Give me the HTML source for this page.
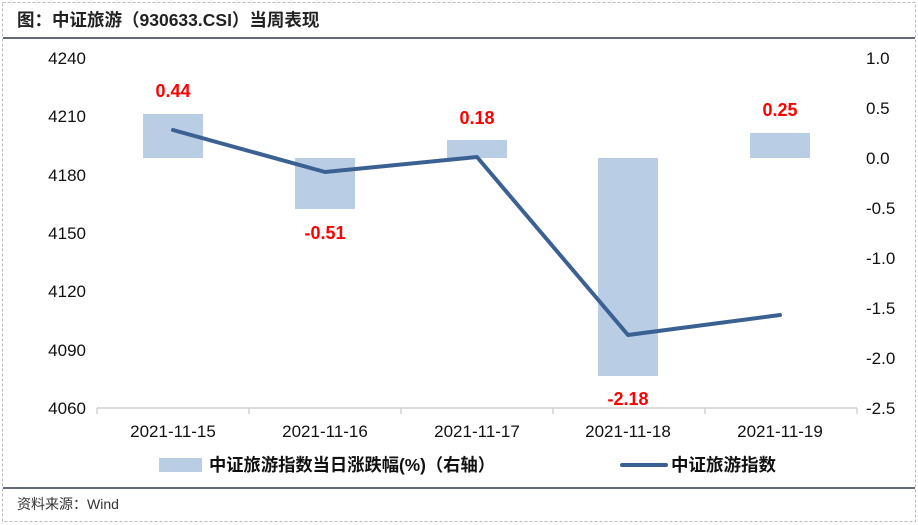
<!DOCTYPE html>
<html><head><meta charset="utf-8"><style>
body{margin:0;background:#fff;}
svg{display:block;font-family:"Liberation Sans","Noto Sans CJK SC",sans-serif;}
</style></head><body>
<svg width="918" height="525" xmlns="http://www.w3.org/2000/svg">
<rect x="2.5" y="2.5" width="913" height="519" fill="none" stroke="#bbb" stroke-dasharray="3,2"/>
<text x="17" y="26" font-size="17.5" font-weight="bold" fill="#222">图：中证旅游（930633.CSI）当周表现</text>
<line x1="3" y1="38" x2="915" y2="38" stroke="#2e3a4a" stroke-width="1.5"/>
<g font-size="17" fill="#111" text-anchor="end">
<text x="86" y="64">4240</text><text x="86" y="122">4210</text><text x="86" y="181">4180</text>
<text x="86" y="239">4150</text><text x="86" y="297">4120</text><text x="86" y="356">4090</text><text x="86" y="414">4060</text>
</g>
<g font-size="17" fill="#111" text-anchor="start">
<text x="866" y="64">1.0</text><text x="866" y="114">0.5</text><text x="866" y="164">0.0</text>
<text x="866" y="214">-0.5</text><text x="866" y="264">-1.0</text><text x="866" y="314">-1.5</text>
<text x="866" y="364">-2.0</text><text x="866" y="414">-2.5</text>
</g>
<g fill="#b9cde5">
<rect x="143" y="114" width="60" height="44"/>
<rect x="295" y="158" width="60" height="51"/>
<rect x="447" y="140" width="60" height="18"/>
<rect x="598" y="158" width="60" height="218"/>
<rect x="750" y="133" width="60" height="25"/>
</g>
<g stroke="#c8c8c8" stroke-width="1.2">
<line x1="97" y1="408" x2="857" y2="408"/>
<line x1="97" y1="408" x2="97" y2="414"/><line x1="249" y1="408" x2="249" y2="414"/>
<line x1="401" y1="408" x2="401" y2="414"/><line x1="553" y1="408" x2="553" y2="414"/>
<line x1="705" y1="408" x2="705" y2="414"/><line x1="857" y1="408" x2="857" y2="414"/>
</g>
<polyline points="173,130 325,172 477,157 628,335 780,315" fill="none" stroke="#3b6193" stroke-width="4" stroke-linejoin="round" stroke-linecap="round"/>
<g font-size="18" font-weight="bold" fill="#ff0000" text-anchor="middle">
<text x="173" y="97">0.44</text><text x="325" y="239">-0.51</text><text x="477" y="124">0.18</text>
<text x="628" y="405">-2.18</text><text x="780" y="116">0.25</text>
</g>
<g font-size="17" fill="#111" text-anchor="middle">
<text x="173" y="437">2021-11-15</text><text x="325" y="437">2021-11-16</text><text x="477" y="437">2021-11-17</text>
<text x="628" y="437">2021-11-18</text><text x="780" y="437">2021-11-19</text>
</g>
<rect x="159" y="458" width="43" height="14" fill="#b9cde5"/>
<text x="209" y="471" font-size="17.5" font-weight="bold" fill="#111" textLength="286" lengthAdjust="spacingAndGlyphs">中证旅游指数当日涨跌幅(%)（右轴）</text>
<line x1="622" y1="465" x2="666" y2="465" stroke="#3b6193" stroke-width="4" stroke-linecap="round"/>
<text x="671" y="471" font-size="17.5" font-weight="bold" fill="#111">中证旅游指数</text>
<line x1="3" y1="488" x2="915" y2="488" stroke="#2e3a4a" stroke-width="1.5"/>
<text x="17" y="509" font-size="14" fill="#333">资料来源：Wind</text>
</svg>
</body></html>
